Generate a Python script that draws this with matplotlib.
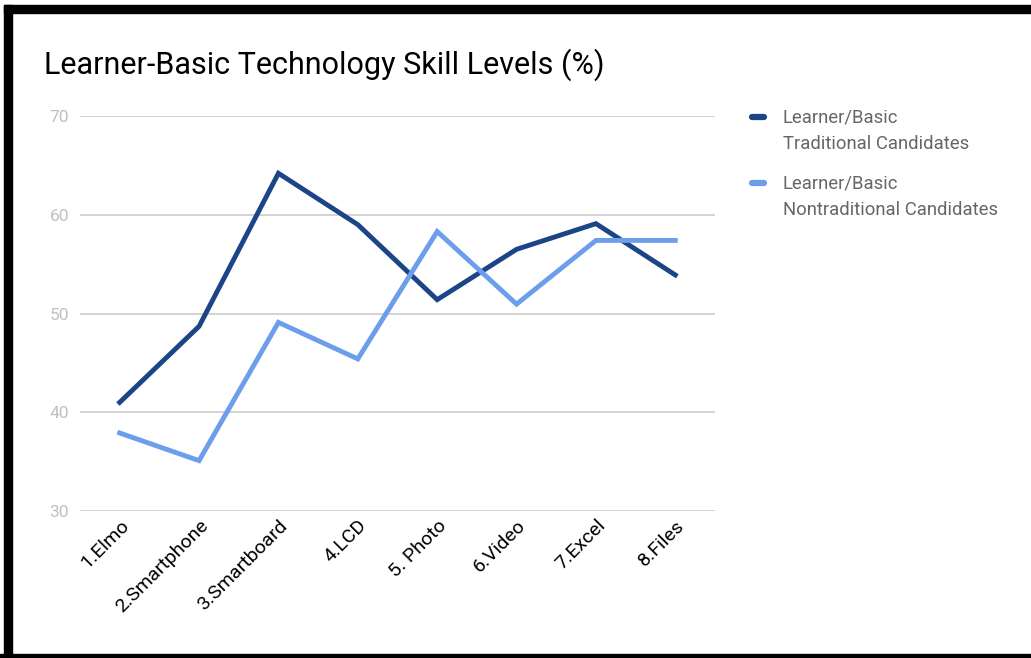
import matplotlib
matplotlib.use("Agg")
import matplotlib.pyplot as plt
from matplotlib.patches import Rectangle
from matplotlib.lines import Line2D

# Data
categories = ["1.Elmo", "2.Smartphone", "3.Smartboard", "4.LCD",
              "5. Photo", "6.Video", "7.Excel", "8.Files"]
traditional = [41.0, 48.7, 64.2, 59.0, 51.4, 56.5, 59.1, 53.9]
nontraditional = [37.9, 35.1, 49.1, 45.4, 58.3, 50.95, 57.4, 57.4]
y_ticks = [30, 40, 50, 60, 70]
series_labels = ["Learner/Basic\nTraditional Candidates",
                 "Learner/Basic\nNontraditional Candidates"]

DARK = "#1c4587"
LIGHT = "#6d9eeb"
W, H = 1031, 658

fig = plt.figure(figsize=(W / 100, H / 100), dpi=100)
ax = fig.add_axes([80 / W, 1 - 511 / H, 635 / W, 395 / H])

x = list(range(len(categories)))
ax.plot(x, traditional, color=DARK, linewidth=3.5, solid_joinstyle="miter")
ax.plot(x, nontraditional, color=LIGHT, linewidth=3.5, solid_joinstyle="miter")

ax.set_xlim(-0.5, len(categories) - 0.5)
ax.set_ylim(30, 70)
ax.set_yticks(y_ticks)
ax.set_yticklabels([str(t) for t in y_ticks], family="Roboto", fontsize=12.5,
                   color="#c0c0c0")
ax.set_xticks(x)
ax.set_xticklabels(categories, family="Roboto", fontsize=14,
                   rotation=45, ha="right", va="top", rotation_mode="anchor",
                   color="#000000")
ax.tick_params(axis="both", length=0)
ax.tick_params(axis="y", pad=8)
ax.tick_params(axis="x", pad=4)
ax.grid(axis="y", color="#cccccc", linewidth=1.2)
ax.set_axisbelow(True)
for s in ax.spines.values():
    s.set_visible(False)

fig.text(44 / W, 1 - 74 / H, "Learner-Basic Technology Skill Levels (%)",
         family="Roboto", fontsize=22, color="#000000", va="baseline")

# legend: short rounded line beside the first line of each two-line label
for i, (lab, col) in enumerate(zip(series_labels, [DARK, LIGHT])):
    yc = 117 + 66 * i
    fig.add_artist(Line2D([752 / W, 764 / W], [1 - yc / H, 1 - yc / H],
                          transform=fig.transFigure, color=col, linewidth=4.5,
                          solid_capstyle="round"))
    fig.text(783 / W, 1 - (yc - 8) / H, lab, family="Roboto", fontsize=13.3,
             color="#666666", va="top", linespacing=1.55)

# black frame around the picture
fig.patches.append(Rectangle((4 / W, 0), 8 / W, 1 - 5 / H, transform=fig.transFigure,
                             color="black", zorder=10))
fig.patches.append(Rectangle((4 / W, 1 - 13 / H), 1, 8 / H, transform=fig.transFigure,
                             color="black", zorder=10))
fig.patches.append(Rectangle((0, 0), 1, 4 / H, transform=fig.transFigure,
                             color="black", zorder=10))

fig.savefig("out.png", dpi=100, facecolor="white")
